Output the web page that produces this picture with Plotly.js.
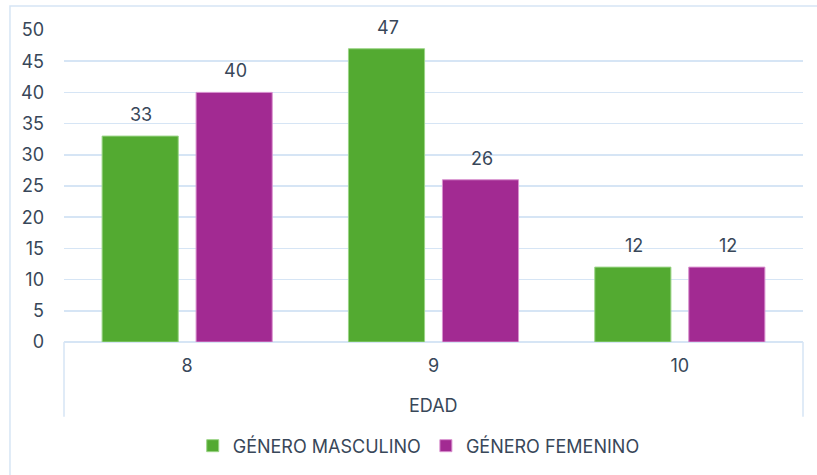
<!DOCTYPE html>
<html>
<head>
<meta charset="utf-8">
<script src="https://cdn.plot.ly/plotly-3.0.1.min.js"></script>
<style>html,body{margin:0;padding:0;background:#fff;}#chart{width:817px;height:475px;}</style>
</head>
<body>
<div id="chart"></div>
<script>
const categories = ['8', '9', '10'];
const seriesNames = ['GÉNERO MASCULINO', 'GÉNERO FEMENINO'];
const masculino = [33, 47, 12];
const femenino = [40, 26, 12];
const yTicks = [0, 5, 10, 15, 20, 25, 30, 35, 40, 45, 50];
const xTitle = 'EDAD';

const FONT = 'Inter, "Open Sans", sans-serif';
const FS = 18;
const TXT = '#384759';
const GRID = '#d6e5f5';

const traces = [
  {type: 'bar', name: seriesNames[0], x: categories, y: masculino,
   marker: {color: '#53aa31', line: {color: '#9ad486', width: 1}}, hoverinfo: 'none'},
  {type: 'bar', name: seriesNames[1], x: categories, y: femenino,
   marker: {color: '#a22a92', line: {color: '#d991cf', width: 1}}, hoverinfo: 'none'}
];

const annotations = [];
[masculino, femenino].forEach((vals, s) => {
  vals.forEach((v, i) => {
    annotations.push({x: i, y: v, xref: 'x', yref: 'y', text: String(v),
      showarrow: false, yanchor: 'bottom', xshift: s === 0 ? -46 : 48, yshift: 9,
      font: {family: FONT, size: FS, color: TXT}});
  });
});
annotations.push({x: 0.5, y: -0.2045, xref: 'paper', yref: 'paper', text: xTitle,
  showarrow: false, xanchor: 'center', yanchor: 'middle', font: {family: FONT, size: FS, color: TXT}});

const layout = {
  width: 817, height: 475,
  margin: {l: 64, r: 14, t: 30, b: 132},
  paper_bgcolor: '#ffffff', plot_bgcolor: '#ffffff',
  font: {family: FONT, size: FS, color: TXT},
  barmode: 'group', bargap: 0.237, bargroupgap: 0.19,
  showlegend: true,
  legend: {orientation: 'h', x: 0.48, xanchor: 'center', y: -0.329, yanchor: 'middle',
    font: {family: FONT, size: FS, color: TXT}, itemwidth: 30, traceorder: 'normal'},
  xaxis: {type: 'category', range: [-0.5, 2.5], autorange: false, showgrid: false, zeroline: false,
    showline: false, ticks: '', ticklabelstandoff: 11, tickfont: {family: FONT, size: FS, color: TXT}, fixedrange: true},
  yaxis: {range: [0, 50], autorange: false, tickvals: yTicks, showgrid: true, gridcolor: GRID, gridwidth: 1.5,
    zeroline: true, zerolinecolor: GRID, zerolinewidth: 1.5, showline: false, ticks: '',
    ticklabelstandoff: 19, tickfont: {family: FONT, size: FS, color: TXT}, fixedrange: true},
  shapes: [
    {type: 'rect', xref: 'paper', yref: 'paper', x0: -0.0731, x1: 1.03, y0: -0.45, y1: 1.0767,
      line: {color: GRID, width: 1.5}, fillcolor: 'rgba(0,0,0,0)', layer: 'below'},
    {type: 'line', xref: 'paper', yref: 'paper', x0: 0, x1: 0, y0: 0, y1: -0.2396,
      line: {color: GRID, width: 1.5}},
    {type: 'line', xref: 'paper', yref: 'paper', x0: 1, x1: 1, y0: 0, y1: -0.2396,
      line: {color: GRID, width: 1.5}}
  ],
  annotations: annotations
};

Plotly.newPlot('chart', traces, layout, {displayModeBar: false, staticPlot: true});
</script>
</body>
</html>
